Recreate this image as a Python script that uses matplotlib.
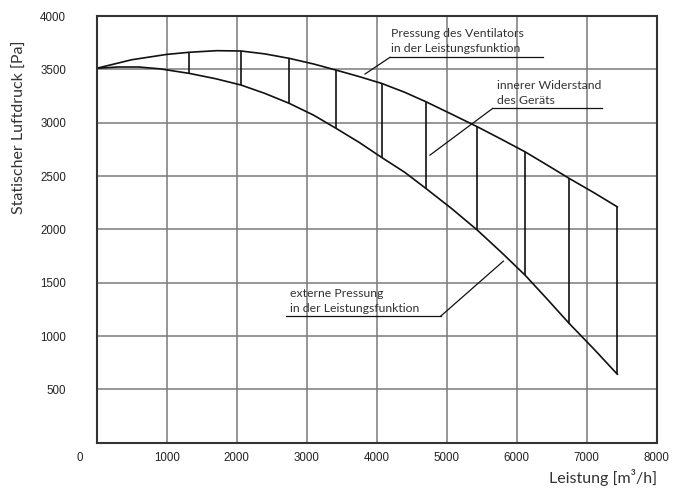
import matplotlib.pyplot as plt

# Curve points (Leistung m3/h, Pa)
flow = [0, 500, 1000, 1323, 1714, 2061, 2400, 2751, 3100, 3419, 3750, 4071,
        4400, 4704, 5070, 5437, 5780, 6119, 6430, 6751, 7100, 7437]
fan_pressure = [3510, 3590, 3640, 3660, 3675, 3672, 3645, 3603, 3550, 3493, 3432, 3368,
                3285, 3196, 3080, 2962, 2845, 2727, 2605, 2477, 2345, 2211]

flow_ext = [0, 300, 600, 900, 1323, 1700, 2061, 2400, 2751, 3100, 3419, 3750,
            4071, 4400, 4704, 5070, 5437, 5780, 6119, 6430, 6751, 7100, 7437]
ext_pressure = [3510, 3522, 3522, 3505, 3462, 3412, 3353, 3275, 3181, 3070, 2947, 2815,
                2674, 2535, 2383, 2195, 1993, 1785, 1571, 1350, 1117, 880, 642]

# vertical hatch lines between the two curves
hatch_x = [1323, 2061, 2751, 3419, 4071, 4704, 5437, 6119, 6751, 7437]
hatch_top = [3660, 3672, 3603, 3493, 3368, 3196, 2962, 2727, 2477, 2211]
hatch_bot = [3462, 3353, 3181, 2947, 2674, 2383, 1993, 1571, 1117, 642]

xticks = [1000, 2000, 3000, 4000, 5000, 6000, 7000, 8000]
yticks = [500, 1000, 1500, 2000, 2500, 3000, 3500, 4000]

txt_font = 'Lato'
tick_font = 'Liberation Sans'
ink = '#333333'

fig = plt.figure(figsize=(6.73, 4.88), dpi=100)
ax = fig.add_axes([0.1437, 0.0928, 0.8321, 0.8744])

ax.set_xlim(0, 8000)
ax.set_ylim(0, 4000)
ax.set_xticks(xticks)
ax.set_yticks(yticks)
ax.tick_params(length=0, labelsize=8.3, colors='#222222')
ax.tick_params(axis='y', pad=22)
ax.tick_params(axis='x', pad=7)
for lab in ax.get_xticklabels() + ax.get_yticklabels():
    lab.set_fontfamily(tick_font)
ax.grid(True, color='#7a7a7a', linewidth=1.1)
ax.set_axisbelow(True)
for sp in ax.spines.values():
    sp.set_color('#333333')
    sp.set_linewidth(1.5)

# shared zero at the corner
ax.annotate('0', xy=(0, 0), xytext=(-12, -11), textcoords='offset points',
            ha='center', va='center', fontsize=8.3, family=tick_font, color='#222222')

# curves
ax.plot(flow, fan_pressure, color='#111111', lw=1.2)
ax.plot(flow_ext, ext_pressure, color='#111111', lw=1.2)
ax.vlines(hatch_x, hatch_bot, hatch_top, color='#111111', lw=1.2)

# callouts
ax.text(4204, 3770, 'Pressung des Ventilators\nin der Leistungsfunktion', fontsize=8.8,
        family=txt_font, color=ink, va='center', ha='left', linespacing=1.45)
ax.plot([4190, 6370], [3613, 3613], color='#111111', lw=0.9)
ax.plot([3833, 4190], [3456, 3613], color='#111111', lw=0.9)

ax.text(5714, 3282, 'innerer Widerstand\ndes Geräts', fontsize=8.8,
        family=txt_font, color=ink, va='center', ha='left', linespacing=1.45)
ax.plot([5657, 7214], [3134, 3134], color='#111111', lw=0.9)
ax.plot([4761, 5657], [2696, 3134], color='#111111', lw=0.9)

ax.text(2761, 1327, 'externe Pressung\nin der Leistungsfunktion', fontsize=8.8,
        family=txt_font, color=ink, va='center', ha='left', linespacing=1.5)
ax.plot([2704, 4914], [1186, 1186], color='#111111', lw=0.9)
ax.plot([4914, 5809], [1186, 1702], color='#111111', lw=0.9)

# axis titles
fig.text(20 / 673, 1 - 127 / 488, 'Statischer Luftdruck [Pa]', rotation=90,
         ha='center', va='center', fontsize=11.5, family=txt_font, color=ink)
fig.text(657 / 673, 1 - 478 / 488, 'Leistung [m³/h]', ha='right', va='center',
         fontsize=11.5, family=txt_font, color=ink)

fig.savefig('out.png', dpi=100)
